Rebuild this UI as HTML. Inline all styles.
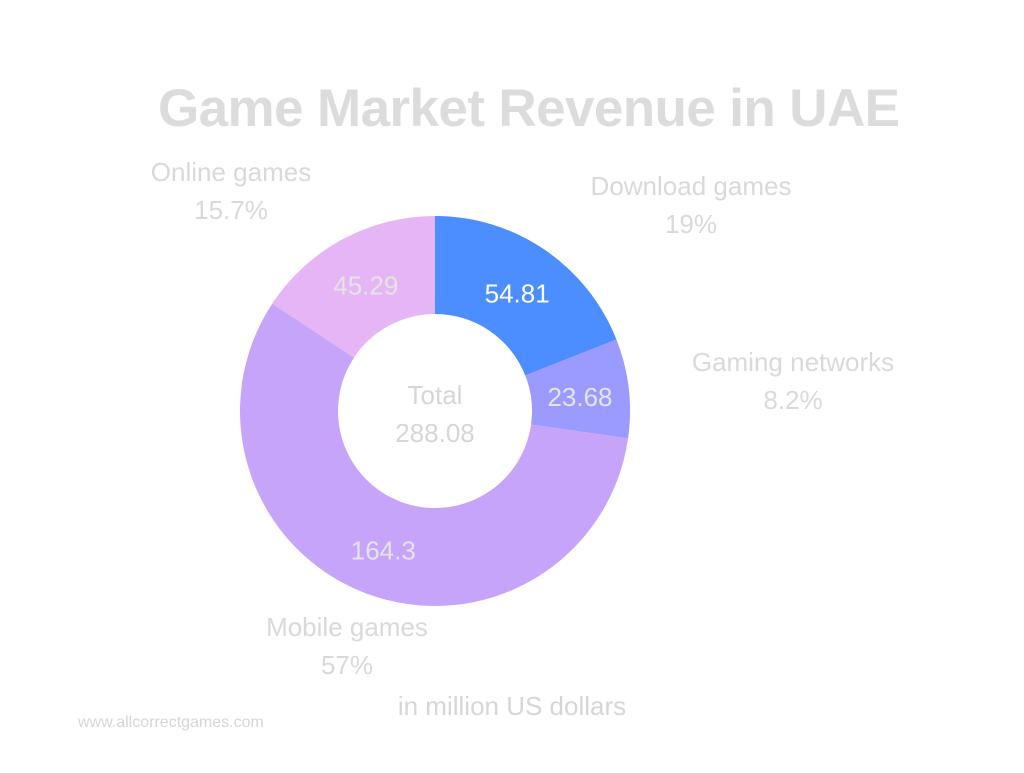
<!DOCTYPE html>
<html><head><meta charset="utf-8"><style>
body{margin:0;background:#fff;width:1024px;height:768px;overflow:hidden;font-family:"Liberation Sans",sans-serif}
</style></head><body>
<svg width="1024" height="768">
<text x="529" y="126" text-anchor="middle" font-size="53" font-weight="bold" fill="#dcdcdc" textLength="742">Game Market Revenue in UAE</text>
<g id="slices"></g>
<g id="labels"></g>
<text x="435" y="404" text-anchor="middle" font-size="26" fill="#d6d6d6">Total</text>
<text x="435" y="442" text-anchor="middle" font-size="26" fill="#d6d6d6">288.08</text>
<text x="512" y="715" text-anchor="middle" font-size="26" fill="#d6d6d6">in million US dollars</text>
<text x="78" y="727" font-size="16" fill="#d6d6d6">www.allcorrectgames.com</text>
</svg>
<script>
const categories=["Download games","Gaming networks","Mobile games","Online games"];
const values=[54.81,23.68,164.3,45.29];
const percents=["19%","8.2%","57%","15.7%"];
const colors=["#4c8dff","#9b9bff","#c6a4f9","#e6b5f6"];
const outerPos=[[691,195],[793,371],[347,636],[231,181]];
const cx=435,cy=411,R=195,r=97;
const ns="http://www.w3.org/2000/svg";
const total=values.reduce((a,b)=>a+b,0);
const sg=document.getElementById('slices'),lg=document.getElementById('labels');
let a0=0;
values.forEach((v,i)=>{
 const a1=a0+v/total*2*Math.PI;
 const p=(rad,a)=>[cx+rad*Math.sin(a),cy-rad*Math.cos(a)];
 const [x1,y1]=p(R,a0),[x2,y2]=p(R,a1),[x3,y3]=p(r,a1),[x4,y4]=p(r,a0);
 const lf=(a1-a0)>Math.PI?1:0;
 const path=document.createElementNS(ns,'path');
 path.setAttribute('d',`M${x1},${y1}A${R},${R} 0 ${lf} 1 ${x2},${y2}L${x3},${y3}A${r},${r} 0 ${lf} 0 ${x4},${y4}Z`);
 path.setAttribute('fill',colors[i]);
 
 
 sg.appendChild(path);
 const am=(a0+a1)/2,[vx,vy]=p((R+r)/2,am);
 const t=document.createElementNS(ns,'text');
 t.setAttribute('x',vx);t.setAttribute('y',vy+12);t.setAttribute('text-anchor','middle');
 t.setAttribute('font-size','26');t.setAttribute('fill',i==0?'#ffffff':'#e4e4e4');
 t.textContent=String(values[i]);
 
 
 lg.appendChild(t);
 const [ox,oy]=outerPos[i];
 const n=document.createElementNS(ns,'text');
 n.setAttribute('x',ox);n.setAttribute('y',oy);n.setAttribute('text-anchor','middle');
 n.setAttribute('font-size','26');n.setAttribute('fill','#d9d9d9');
 n.textContent=categories[i];
 
 
 lg.appendChild(n);
 const q=document.createElementNS(ns,'text');
 q.setAttribute('x',ox);q.setAttribute('y',oy+38);q.setAttribute('text-anchor','middle');
 q.setAttribute('font-size','26');q.setAttribute('fill','#d9d9d9');
 q.textContent=percents[i];
 
 
 lg.appendChild(q);
 a0=a1;
});
</script>
</body></html>
